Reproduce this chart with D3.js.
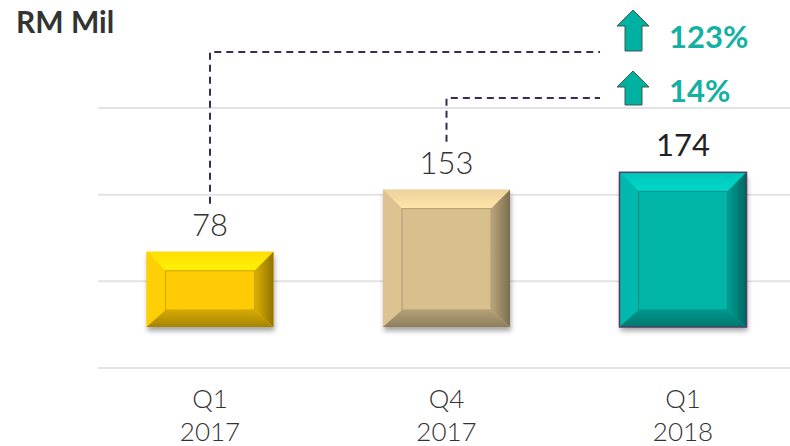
<!DOCTYPE html>
<html><head><meta charset="utf-8">
<script src="https://cdn.jsdelivr.net/npm/d3@7"></script>
<style>html,body{margin:0;padding:0;background:#fff;}svg{display:block;}</style>
</head><body>
<svg id="c" width="790" height="446"></svg>
<script>
const categories = ["Q1\n2017", "Q4\n2017", "Q1\n2018"];
const values = [78, 153, 174];
const colors = ["#ffcb05", "#d8c08e", "#00b5a8"];
const changes = [{from: 0, label: "123%"}, {from: 1, label: "14%"}];
const unitLabel = "RM Mil";
const gridTicks = [0, 1, 2, 3];

const svg = d3.select("#c");
const defs = svg.append("defs");
const f = defs.append("filter").attr("id","sh").attr("x","-10%").attr("y","-10%").attr("width","130%").attr("height","130%");
f.append("feDropShadow").attr("dx",1).attr("dy",4).attr("stdDeviation",2.5).attr("flood-color","#000").attr("flood-opacity",0.35);

const x = d3.scaleBand().domain(d3.range(categories.length)).range([91.75, 801.25]).paddingInner(0.463).paddingOuter(0.2315);
const y = d3.scaleLinear().domain([-13, 200]).range([327, 150.8]);
const g = d3.scaleLinear().domain([0, 3]).range([368, 108]);

// gridlines
svg.append("g").selectAll("line").data(gridTicks).join("line")
  .attr("x1", 98).attr("x2", 790).attr("y1", d => g(d)).attr("y2", d => g(d))
  .attr("stroke", "#e3e3e3").attr("stroke-width", 2);

// title
svg.append("text").attr("x", 16).attr("y", 33).text(unitLabel)
  .attr("font-family", "Lato, 'Open Sans', sans-serif").attr("font-weight", 700)
  .attr("font-size", 30).attr("fill", "#333");

// bars with bevel
values.forEach((v, i) => {
  const c = d3.color(colors[i]);
  const x0 = x(i), x1 = x(i) + x.bandwidth(), yt = y(v), yb = y(-13);
  const b = 19;
  const gb = svg.append("g");
  gb.append("rect").attr("x", x0).attr("y", yt).attr("width", x1 - x0).attr("height", yb - yt)
    .attr("fill", c.formatHex()).attr("filter", "url(#sh)");
  const gid = "gr" + i;
  const lgR = defs.append("linearGradient").attr("id", gid + "r").attr("x1", 0).attr("x2", 1).attr("y1", 0).attr("y2", 0);
  lgR.append("stop").attr("offset", "0%").attr("stop-color", c.darker(0.4).formatHex());
  lgR.append("stop").attr("offset", "100%").attr("stop-color", c.darker(1.6).formatHex());
  const lgB = defs.append("linearGradient").attr("id", gid + "b").attr("x1", 0).attr("x2", 0).attr("y1", 0).attr("y2", 1);
  lgB.append("stop").attr("offset", "0%").attr("stop-color", c.darker(0.5).formatHex());
  lgB.append("stop").attr("offset", "100%").attr("stop-color", c.darker(1.2).formatHex());
  const lgT = defs.append("linearGradient").attr("id", gid + "t").attr("x1", 0).attr("x2", 0).attr("y1", 0).attr("y2", 1);
  lgT.append("stop").attr("offset", "0%").attr("stop-color", c.brighter(0.25).formatHex());
  lgT.append("stop").attr("offset", "100%").attr("stop-color", c.brighter(0.5).formatHex());
  const ix0 = x0 + b, ix1 = x1 - b, iy0 = yt + b, iy1 = yb - b + 2;
  const poly = pts => pts.map(p => p.join(",")).join(" ");
  gb.append("polygon").attr("points", poly([[x0, yt], [x1, yt], [ix1, iy0], [ix0, iy0]])).attr("fill", `url(#${gid}t)`);
  gb.append("polygon").attr("points", poly([[x0, yt], [ix0, iy0], [ix0, iy1], [x0, yb]])).attr("fill", c.brighter(0.05).formatHex());
  gb.append("polygon").attr("points", poly([[x1, yt], [x1, yb], [ix1, iy1], [ix1, iy0]])).attr("fill", `url(#${gid}r)`);
  gb.append("polygon").attr("points", poly([[x0, yb], [x1, yb], [ix1, iy1], [ix0, iy1]])).attr("fill", `url(#${gid}b)`);
  gb.append("rect").attr("x", ix0).attr("y", iy0).attr("width", ix1 - ix0).attr("height", iy1 - iy0)
    .attr("fill", c.formatHex()).attr("stroke", c.darker(0.6).formatHex()).attr("stroke-width", 1);
  if (i === 2) gb.append("rect").attr("x", x0).attr("y", yt).attr("width", x1 - x0).attr("height", yb - yt)
    .attr("fill", "none").attr("stroke", "#4b3f6e").attr("stroke-width", 1.5);
});

// value labels
svg.append("g").selectAll("text").data(values).join("text")
  .attr("x", (d, i) => x(i) + x.bandwidth() / 2).attr("y", d => y(d) - 16)
  .attr("text-anchor", "middle").attr("font-family", "Lato, 'Open Sans', sans-serif")
  .attr("font-weight", (d, i) => i === 2 ? 400 : 300).attr("font-size", 31)
  .attr("fill", (d, i) => i === 2 ? "#222" : "#333").text(d => d);

// category labels
categories.forEach((c, i) => {
  const t = svg.append("text").attr("x", x(i) + x.bandwidth() / 2).attr("y", 408)
    .attr("text-anchor", "middle").attr("font-family", "Lato, 'Open Sans', sans-serif")
    .attr("font-weight", 300).attr("font-size", 26).attr("fill", "#333");
  c.split("\n").forEach((s, k) => t.append("tspan").attr("x", x(i) + x.bandwidth() / 2).attr("dy", k ? 33 : 0).text(s));
});

// change annotations
const levels = [52, 98];
changes.forEach((ch, k) => {
  const cx = x(ch.from) + x.bandwidth() / 2;
  const ly = levels[k];
  const bottom = y(values[ch.from]) - 48;
  svg.append("path").attr("d", `M${cx},${bottom} L${cx},${ly} L600,${ly}`)
    .attr("fill", "none").attr("stroke", "#3b2a55").attr("stroke-width", 2).attr("stroke-dasharray", "7,5");
  const ax = 633;
  const top = ly - 42 + (k ? 15 : 0);
  const ab = ly - 1 + (k ? 8 : 0);
  const ah = top + 16;
  svg.append("path").attr("d", `M${ax},${top} L${ax + 16},${ah} L${ax + 9},${ah} L${ax + 9},${ab} L${ax - 8},${ab} L${ax - 8},${ah} L${ax - 16},${ah} Z`)
    .attr("fill", "#00b0a0").attr("stroke", "#3a5a50").attr("stroke-width", 1);
  svg.append("text").attr("x", 669).attr("y", ab - 3).text(ch.label)
    .attr("font-family", "Lato, 'Open Sans', sans-serif").attr("font-weight", 700)
    .attr("font-size", 31).attr("fill", "#14b0a3");
});
</script>
</body></html>
